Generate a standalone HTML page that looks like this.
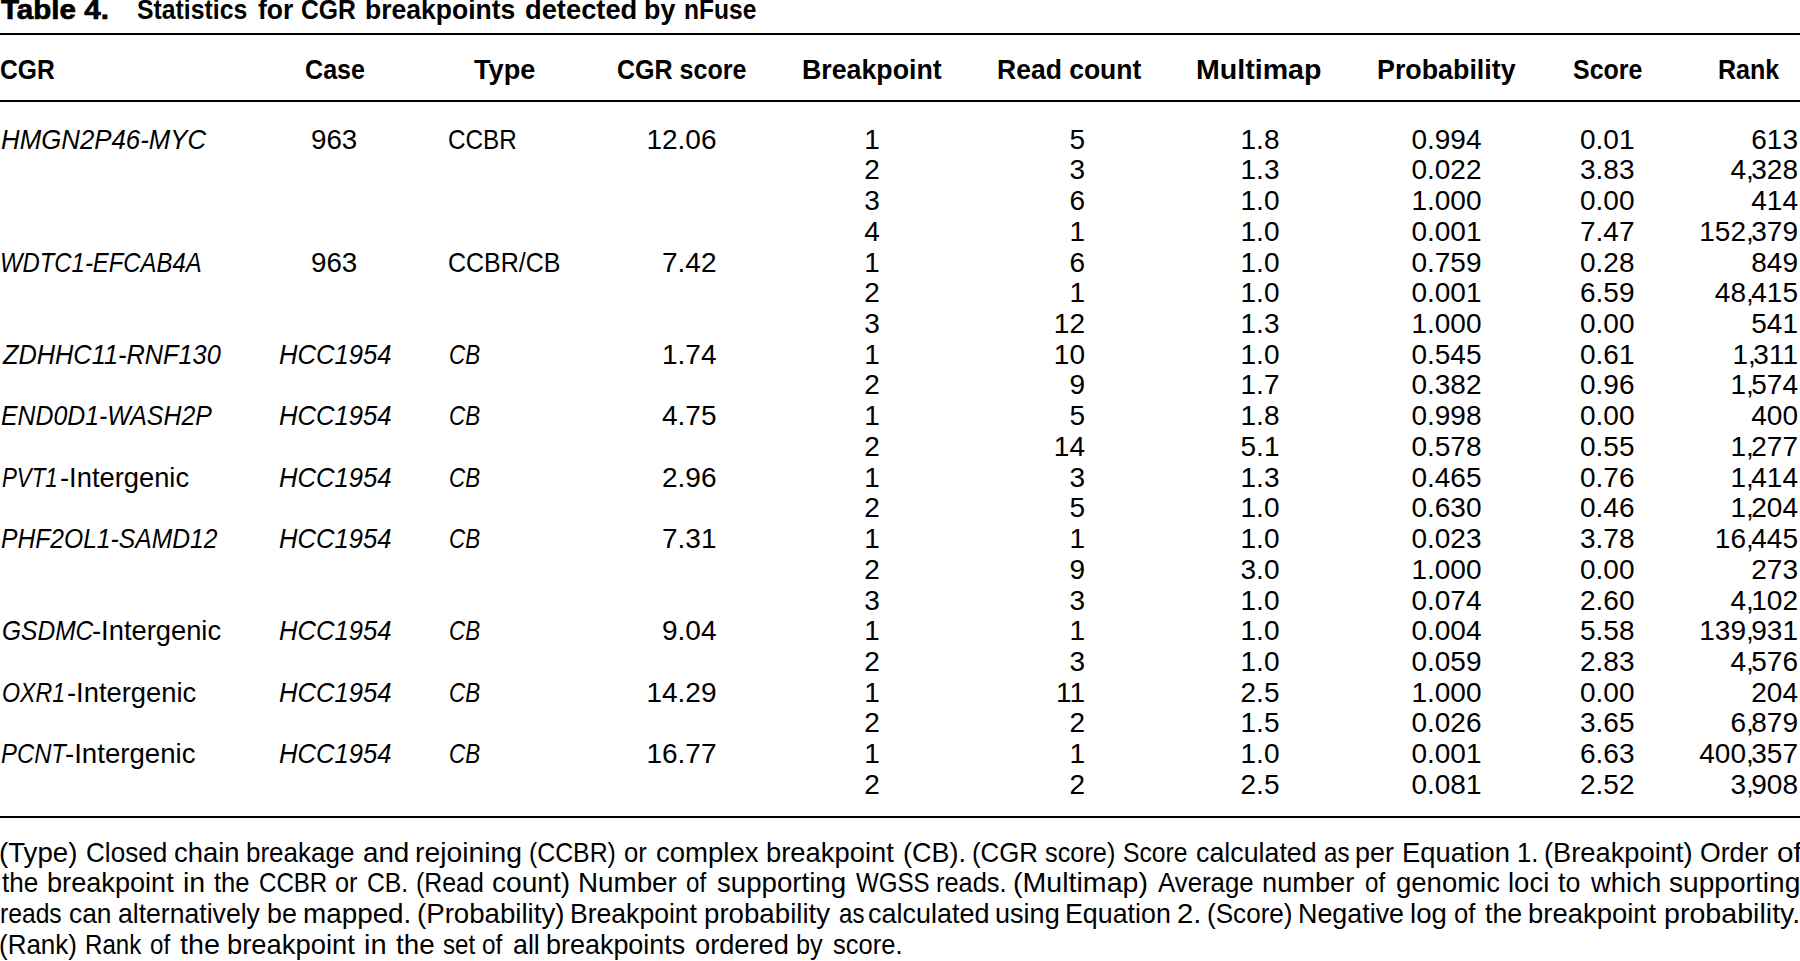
<!DOCTYPE html><html><head><meta charset="utf-8"><style>
html,body{margin:0;padding:0;background:#fff;}
body{width:1800px;height:961px;overflow:hidden;position:relative;font-family:'Liberation Sans', sans-serif;color:#000;line-height:40px;white-space:pre;}
body div{white-space:pre;}
.r{position:absolute;left:0;width:1800px;background:#000;}
</style></head><body>
<div style="position:absolute;left:0.60px;top:-10px;font-size:28px;font-weight:bold;font-style:normal;transform:scaleX(1.05545);transform-origin:0 0;-webkit-text-stroke:0.7px #000;">Table 4.</div>
<div style="position:absolute;left:137.41px;top:-10px;font-size:28px;font-weight:bold;font-style:normal;transform:scaleX(0.88537);transform-origin:0 0;">Statistics</div>
<div style="position:absolute;left:257.80px;top:-10px;font-size:28px;font-weight:bold;font-style:normal;transform:scaleX(0.94595);transform-origin:0 0;">for</div>
<div style="position:absolute;left:301.32px;top:-10px;font-size:28px;font-weight:bold;font-style:normal;transform:scaleX(0.88361);transform-origin:0 0;">CGR</div>
<div style="position:absolute;left:364.81px;top:-10px;font-size:28px;font-weight:bold;font-style:normal;transform:scaleX(0.94679);transform-origin:0 0;">breakpoints</div>
<div style="position:absolute;left:524.62px;top:-10px;font-size:28px;font-weight:bold;font-style:normal;transform:scaleX(0.97500);transform-origin:0 0;">detected</div>
<div style="position:absolute;left:643.68px;top:-10px;font-size:28px;font-weight:bold;font-style:normal;transform:scaleX(0.96000);transform-origin:0 0;">by</div>
<div style="position:absolute;left:683.54px;top:-10px;font-size:28px;font-weight:bold;font-style:normal;transform:scaleX(0.87750);transform-origin:0 0;">nFuse</div>
<div style="position:absolute;left:0.22px;top:50px;font-size:28px;font-weight:bold;font-style:normal;transform:scaleX(0.87869);transform-origin:0 0;">CGR</div>
<div style="position:absolute;left:304.70px;top:50px;font-size:28px;font-weight:bold;font-style:normal;transform:scaleX(0.89692);transform-origin:0 0;">Case</div>
<div style="position:absolute;left:473.60px;top:50px;font-size:28px;font-weight:bold;font-style:normal;transform:scaleX(0.96984);transform-origin:0 0;">Type</div>
<div style="position:absolute;left:617.11px;top:50px;font-size:28px;font-weight:bold;font-style:normal;transform:scaleX(0.89371);transform-origin:0 0;">CGR score</div>
<div style="position:absolute;left:801.59px;top:50px;font-size:28px;font-weight:bold;font-style:normal;transform:scaleX(0.95486);transform-origin:0 0;">Breakpoint</div>
<div style="position:absolute;left:997.11px;top:50px;font-size:28px;font-weight:bold;font-style:normal;transform:scaleX(0.94667);transform-origin:0 0;">Read count</div>
<div style="position:absolute;left:1196.46px;top:50px;font-size:28px;font-weight:bold;font-style:normal;transform:scaleX(1.02083);transform-origin:0 0;">Multimap</div>
<div style="position:absolute;left:1377.08px;top:50px;font-size:28px;font-weight:bold;font-style:normal;transform:scaleX(0.95775);transform-origin:0 0;">Probability</div>
<div style="position:absolute;left:1573.11px;top:50px;font-size:28px;font-weight:bold;font-style:normal;transform:scaleX(0.89079);transform-origin:0 0;">Score</div>
<div style="position:absolute;left:1717.81px;top:50px;font-size:28px;font-weight:bold;font-style:normal;transform:scaleX(0.89552);transform-origin:0 0;">Rank</div>
<div style="position:absolute;left:1.28px;top:120px;font-size:28px;font-weight:normal;font-style:normal;transform:scaleX(0.92207);transform-origin:0 0;"><i>HMGN2P46-MYC</i></div>
<div style="position:absolute;left:311.46px;top:120px;font-size:28px;font-weight:normal;font-style:normal;transform:scaleX(0.98889);transform-origin:0 0;">963</div>
<div style="position:absolute;left:447.73px;top:120px;font-size:28px;font-weight:normal;font-style:normal;transform:scaleX(0.86623);transform-origin:0 0;">CCBR</div>
<div style="position:absolute;left:646.42px;top:120px;font-size:28px;font-weight:normal;font-style:normal;">12.06</div>
<div style="position:absolute;left:864.21px;top:120px;font-size:28px;font-weight:normal;font-style:normal;">1</div>
<div style="position:absolute;left:1069.42px;top:120px;font-size:28px;font-weight:normal;font-style:normal;">5</div>
<div style="position:absolute;left:1240.56px;top:120px;font-size:28px;font-weight:normal;font-style:normal;">1.8</div>
<div style="position:absolute;left:1411.42px;top:120px;font-size:28px;font-weight:normal;font-style:normal;">0.994</div>
<div style="position:absolute;left:1580.00px;top:120px;font-size:28px;font-weight:normal;font-style:normal;">0.01</div>
<div style="position:absolute;left:1751.28px;top:120px;font-size:28px;font-weight:normal;font-style:normal;">613</div>
<div style="position:absolute;left:864.21px;top:150px;font-size:28px;font-weight:normal;font-style:normal;">2</div>
<div style="position:absolute;left:1069.42px;top:150px;font-size:28px;font-weight:normal;font-style:normal;">3</div>
<div style="position:absolute;left:1240.56px;top:150px;font-size:28px;font-weight:normal;font-style:normal;">1.3</div>
<div style="position:absolute;left:1411.42px;top:150px;font-size:28px;font-weight:normal;font-style:normal;">0.022</div>
<div style="position:absolute;left:1580.00px;top:150px;font-size:28px;font-weight:normal;font-style:normal;">3.83</div>
<div style="position:absolute;left:1730.42px;top:150px;font-size:28px;font-weight:normal;font-style:normal;">4<span style="letter-spacing:-2.5px">,</span>328</div>
<div style="position:absolute;left:864.21px;top:181px;font-size:28px;font-weight:normal;font-style:normal;">3</div>
<div style="position:absolute;left:1069.42px;top:181px;font-size:28px;font-weight:normal;font-style:normal;">6</div>
<div style="position:absolute;left:1240.56px;top:181px;font-size:28px;font-weight:normal;font-style:normal;">1.0</div>
<div style="position:absolute;left:1411.42px;top:181px;font-size:28px;font-weight:normal;font-style:normal;">1.000</div>
<div style="position:absolute;left:1580.00px;top:181px;font-size:28px;font-weight:normal;font-style:normal;">0.00</div>
<div style="position:absolute;left:1751.28px;top:181px;font-size:28px;font-weight:normal;font-style:normal;">414</div>
<div style="position:absolute;left:864.21px;top:212px;font-size:28px;font-weight:normal;font-style:normal;">4</div>
<div style="position:absolute;left:1069.42px;top:212px;font-size:28px;font-weight:normal;font-style:normal;">1</div>
<div style="position:absolute;left:1240.56px;top:212px;font-size:28px;font-weight:normal;font-style:normal;">1.0</div>
<div style="position:absolute;left:1411.42px;top:212px;font-size:28px;font-weight:normal;font-style:normal;">0.001</div>
<div style="position:absolute;left:1580.00px;top:212px;font-size:28px;font-weight:normal;font-style:normal;">7.47</div>
<div style="position:absolute;left:1699.28px;top:212px;font-size:28px;font-weight:normal;font-style:normal;">152<span style="letter-spacing:-2.5px">,</span>379</div>
<div style="position:absolute;left:0.49px;top:243px;font-size:28px;font-weight:normal;font-style:normal;transform:scaleX(0.85279);transform-origin:0 0;"><i>WDTC1-EFCAB4A</i></div>
<div style="position:absolute;left:311.46px;top:243px;font-size:28px;font-weight:normal;font-style:normal;transform:scaleX(0.98889);transform-origin:0 0;">963</div>
<div style="position:absolute;left:447.91px;top:243px;font-size:28px;font-weight:normal;font-style:normal;transform:scaleX(0.89274);transform-origin:0 0;">CCBR/CB</div>
<div style="position:absolute;left:662.00px;top:243px;font-size:28px;font-weight:normal;font-style:normal;">7.42</div>
<div style="position:absolute;left:864.21px;top:243px;font-size:28px;font-weight:normal;font-style:normal;">1</div>
<div style="position:absolute;left:1069.42px;top:243px;font-size:28px;font-weight:normal;font-style:normal;">6</div>
<div style="position:absolute;left:1240.56px;top:243px;font-size:28px;font-weight:normal;font-style:normal;">1.0</div>
<div style="position:absolute;left:1411.42px;top:243px;font-size:28px;font-weight:normal;font-style:normal;">0.759</div>
<div style="position:absolute;left:1580.00px;top:243px;font-size:28px;font-weight:normal;font-style:normal;">0.28</div>
<div style="position:absolute;left:1751.28px;top:243px;font-size:28px;font-weight:normal;font-style:normal;">849</div>
<div style="position:absolute;left:864.21px;top:273px;font-size:28px;font-weight:normal;font-style:normal;">2</div>
<div style="position:absolute;left:1069.42px;top:273px;font-size:28px;font-weight:normal;font-style:normal;">1</div>
<div style="position:absolute;left:1240.56px;top:273px;font-size:28px;font-weight:normal;font-style:normal;">1.0</div>
<div style="position:absolute;left:1411.42px;top:273px;font-size:28px;font-weight:normal;font-style:normal;">0.001</div>
<div style="position:absolute;left:1580.00px;top:273px;font-size:28px;font-weight:normal;font-style:normal;">6.59</div>
<div style="position:absolute;left:1714.84px;top:273px;font-size:28px;font-weight:normal;font-style:normal;">48<span style="letter-spacing:-2.5px">,</span>415</div>
<div style="position:absolute;left:864.21px;top:304px;font-size:28px;font-weight:normal;font-style:normal;">3</div>
<div style="position:absolute;left:1053.84px;top:304px;font-size:28px;font-weight:normal;font-style:normal;">12</div>
<div style="position:absolute;left:1240.56px;top:304px;font-size:28px;font-weight:normal;font-style:normal;">1.3</div>
<div style="position:absolute;left:1411.42px;top:304px;font-size:28px;font-weight:normal;font-style:normal;">1.000</div>
<div style="position:absolute;left:1580.00px;top:304px;font-size:28px;font-weight:normal;font-style:normal;">0.00</div>
<div style="position:absolute;left:1751.28px;top:304px;font-size:28px;font-weight:normal;font-style:normal;">541</div>
<div style="position:absolute;left:3.10px;top:335px;font-size:28px;font-weight:normal;font-style:normal;transform:scaleX(0.90496);transform-origin:0 0;"><i>ZDHHC11-RNF130</i></div>
<div style="position:absolute;left:278.94px;top:335px;font-size:28px;font-weight:normal;font-style:normal;transform:scaleX(0.91488);transform-origin:0 0;"><i>HCC1954</i></div>
<div style="position:absolute;left:449.00px;top:335px;font-size:28px;font-weight:normal;font-style:normal;transform:scaleX(0.80000);transform-origin:0 0;"><i>CB</i></div>
<div style="position:absolute;left:662.00px;top:335px;font-size:28px;font-weight:normal;font-style:normal;">1.74</div>
<div style="position:absolute;left:864.21px;top:335px;font-size:28px;font-weight:normal;font-style:normal;">1</div>
<div style="position:absolute;left:1053.84px;top:335px;font-size:28px;font-weight:normal;font-style:normal;">10</div>
<div style="position:absolute;left:1240.56px;top:335px;font-size:28px;font-weight:normal;font-style:normal;">1.0</div>
<div style="position:absolute;left:1411.42px;top:335px;font-size:28px;font-weight:normal;font-style:normal;">0.545</div>
<div style="position:absolute;left:1580.00px;top:335px;font-size:28px;font-weight:normal;font-style:normal;">0.61</div>
<div style="position:absolute;left:1732.50px;top:335px;font-size:28px;font-weight:normal;font-style:normal;">1<span style="letter-spacing:-2.5px">,</span>311</div>
<div style="position:absolute;left:864.21px;top:365px;font-size:28px;font-weight:normal;font-style:normal;">2</div>
<div style="position:absolute;left:1069.42px;top:365px;font-size:28px;font-weight:normal;font-style:normal;">9</div>
<div style="position:absolute;left:1240.56px;top:365px;font-size:28px;font-weight:normal;font-style:normal;">1.7</div>
<div style="position:absolute;left:1411.42px;top:365px;font-size:28px;font-weight:normal;font-style:normal;">0.382</div>
<div style="position:absolute;left:1580.00px;top:365px;font-size:28px;font-weight:normal;font-style:normal;">0.96</div>
<div style="position:absolute;left:1730.42px;top:365px;font-size:28px;font-weight:normal;font-style:normal;">1<span style="letter-spacing:-2.5px">,</span>574</div>
<div style="position:absolute;left:1.31px;top:396px;font-size:28px;font-weight:normal;font-style:normal;transform:scaleX(0.88729);transform-origin:0 0;"><i>END0D1-WASH2P</i></div>
<div style="position:absolute;left:278.94px;top:396px;font-size:28px;font-weight:normal;font-style:normal;transform:scaleX(0.91488);transform-origin:0 0;"><i>HCC1954</i></div>
<div style="position:absolute;left:449.00px;top:396px;font-size:28px;font-weight:normal;font-style:normal;transform:scaleX(0.80000);transform-origin:0 0;"><i>CB</i></div>
<div style="position:absolute;left:662.00px;top:396px;font-size:28px;font-weight:normal;font-style:normal;">4.75</div>
<div style="position:absolute;left:864.21px;top:396px;font-size:28px;font-weight:normal;font-style:normal;">1</div>
<div style="position:absolute;left:1069.42px;top:396px;font-size:28px;font-weight:normal;font-style:normal;">5</div>
<div style="position:absolute;left:1240.56px;top:396px;font-size:28px;font-weight:normal;font-style:normal;">1.8</div>
<div style="position:absolute;left:1411.42px;top:396px;font-size:28px;font-weight:normal;font-style:normal;">0.998</div>
<div style="position:absolute;left:1580.00px;top:396px;font-size:28px;font-weight:normal;font-style:normal;">0.00</div>
<div style="position:absolute;left:1751.28px;top:396px;font-size:28px;font-weight:normal;font-style:normal;">400</div>
<div style="position:absolute;left:864.21px;top:427px;font-size:28px;font-weight:normal;font-style:normal;">2</div>
<div style="position:absolute;left:1053.84px;top:427px;font-size:28px;font-weight:normal;font-style:normal;">14</div>
<div style="position:absolute;left:1240.56px;top:427px;font-size:28px;font-weight:normal;font-style:normal;">5.1</div>
<div style="position:absolute;left:1411.42px;top:427px;font-size:28px;font-weight:normal;font-style:normal;">0.578</div>
<div style="position:absolute;left:1580.00px;top:427px;font-size:28px;font-weight:normal;font-style:normal;">0.55</div>
<div style="position:absolute;left:1730.42px;top:427px;font-size:28px;font-weight:normal;font-style:normal;">1<span style="letter-spacing:-2.5px">,</span>277</div>
<div style="position:absolute;left:1.90px;top:458px;font-size:28px;font-weight:normal;font-style:normal;transform:scaleX(0.79552);transform-origin:0 0;"><i>PVT1</i></div>
<div style="position:absolute;left:60.02px;top:458px;font-size:28px;font-weight:normal;font-style:normal;transform:scaleX(0.97557);transform-origin:0 0;">-Intergenic</div>
<div style="position:absolute;left:278.94px;top:458px;font-size:28px;font-weight:normal;font-style:normal;transform:scaleX(0.91488);transform-origin:0 0;"><i>HCC1954</i></div>
<div style="position:absolute;left:449.00px;top:458px;font-size:28px;font-weight:normal;font-style:normal;transform:scaleX(0.80000);transform-origin:0 0;"><i>CB</i></div>
<div style="position:absolute;left:662.00px;top:458px;font-size:28px;font-weight:normal;font-style:normal;">2.96</div>
<div style="position:absolute;left:864.21px;top:458px;font-size:28px;font-weight:normal;font-style:normal;">1</div>
<div style="position:absolute;left:1069.42px;top:458px;font-size:28px;font-weight:normal;font-style:normal;">3</div>
<div style="position:absolute;left:1240.56px;top:458px;font-size:28px;font-weight:normal;font-style:normal;">1.3</div>
<div style="position:absolute;left:1411.42px;top:458px;font-size:28px;font-weight:normal;font-style:normal;">0.465</div>
<div style="position:absolute;left:1580.00px;top:458px;font-size:28px;font-weight:normal;font-style:normal;">0.76</div>
<div style="position:absolute;left:1730.42px;top:458px;font-size:28px;font-weight:normal;font-style:normal;">1<span style="letter-spacing:-2.5px">,</span>414</div>
<div style="position:absolute;left:864.21px;top:488px;font-size:28px;font-weight:normal;font-style:normal;">2</div>
<div style="position:absolute;left:1069.42px;top:488px;font-size:28px;font-weight:normal;font-style:normal;">5</div>
<div style="position:absolute;left:1240.56px;top:488px;font-size:28px;font-weight:normal;font-style:normal;">1.0</div>
<div style="position:absolute;left:1411.42px;top:488px;font-size:28px;font-weight:normal;font-style:normal;">0.630</div>
<div style="position:absolute;left:1580.00px;top:488px;font-size:28px;font-weight:normal;font-style:normal;">0.46</div>
<div style="position:absolute;left:1730.42px;top:488px;font-size:28px;font-weight:normal;font-style:normal;">1<span style="letter-spacing:-2.5px">,</span>204</div>
<div style="position:absolute;left:1.32px;top:519px;font-size:28px;font-weight:normal;font-style:normal;transform:scaleX(0.88000);transform-origin:0 0;"><i>PHF2OL1-SAMD12</i></div>
<div style="position:absolute;left:278.94px;top:519px;font-size:28px;font-weight:normal;font-style:normal;transform:scaleX(0.91488);transform-origin:0 0;"><i>HCC1954</i></div>
<div style="position:absolute;left:449.00px;top:519px;font-size:28px;font-weight:normal;font-style:normal;transform:scaleX(0.80000);transform-origin:0 0;"><i>CB</i></div>
<div style="position:absolute;left:662.00px;top:519px;font-size:28px;font-weight:normal;font-style:normal;">7.31</div>
<div style="position:absolute;left:864.21px;top:519px;font-size:28px;font-weight:normal;font-style:normal;">1</div>
<div style="position:absolute;left:1069.42px;top:519px;font-size:28px;font-weight:normal;font-style:normal;">1</div>
<div style="position:absolute;left:1240.56px;top:519px;font-size:28px;font-weight:normal;font-style:normal;">1.0</div>
<div style="position:absolute;left:1411.42px;top:519px;font-size:28px;font-weight:normal;font-style:normal;">0.023</div>
<div style="position:absolute;left:1580.00px;top:519px;font-size:28px;font-weight:normal;font-style:normal;">3.78</div>
<div style="position:absolute;left:1714.84px;top:519px;font-size:28px;font-weight:normal;font-style:normal;">16<span style="letter-spacing:-2.5px">,</span>445</div>
<div style="position:absolute;left:864.21px;top:550px;font-size:28px;font-weight:normal;font-style:normal;">2</div>
<div style="position:absolute;left:1069.42px;top:550px;font-size:28px;font-weight:normal;font-style:normal;">9</div>
<div style="position:absolute;left:1240.56px;top:550px;font-size:28px;font-weight:normal;font-style:normal;">3.0</div>
<div style="position:absolute;left:1411.42px;top:550px;font-size:28px;font-weight:normal;font-style:normal;">1.000</div>
<div style="position:absolute;left:1580.00px;top:550px;font-size:28px;font-weight:normal;font-style:normal;">0.00</div>
<div style="position:absolute;left:1751.28px;top:550px;font-size:28px;font-weight:normal;font-style:normal;">273</div>
<div style="position:absolute;left:864.21px;top:581px;font-size:28px;font-weight:normal;font-style:normal;">3</div>
<div style="position:absolute;left:1069.42px;top:581px;font-size:28px;font-weight:normal;font-style:normal;">3</div>
<div style="position:absolute;left:1240.56px;top:581px;font-size:28px;font-weight:normal;font-style:normal;">1.0</div>
<div style="position:absolute;left:1411.42px;top:581px;font-size:28px;font-weight:normal;font-style:normal;">0.074</div>
<div style="position:absolute;left:1580.00px;top:581px;font-size:28px;font-weight:normal;font-style:normal;">2.60</div>
<div style="position:absolute;left:1730.42px;top:581px;font-size:28px;font-weight:normal;font-style:normal;">4<span style="letter-spacing:-2.5px">,</span>102</div>
<div style="position:absolute;left:2.02px;top:611px;font-size:28px;font-weight:normal;font-style:normal;transform:scaleX(0.87573);transform-origin:0 0;"><i>GSDMC</i></div>
<div style="position:absolute;left:92.12px;top:611px;font-size:28px;font-weight:normal;font-style:normal;transform:scaleX(0.97557);transform-origin:0 0;">-Intergenic</div>
<div style="position:absolute;left:278.94px;top:611px;font-size:28px;font-weight:normal;font-style:normal;transform:scaleX(0.91488);transform-origin:0 0;"><i>HCC1954</i></div>
<div style="position:absolute;left:449.00px;top:611px;font-size:28px;font-weight:normal;font-style:normal;transform:scaleX(0.80000);transform-origin:0 0;"><i>CB</i></div>
<div style="position:absolute;left:662.00px;top:611px;font-size:28px;font-weight:normal;font-style:normal;">9.04</div>
<div style="position:absolute;left:864.21px;top:611px;font-size:28px;font-weight:normal;font-style:normal;">1</div>
<div style="position:absolute;left:1069.42px;top:611px;font-size:28px;font-weight:normal;font-style:normal;">1</div>
<div style="position:absolute;left:1240.56px;top:611px;font-size:28px;font-weight:normal;font-style:normal;">1.0</div>
<div style="position:absolute;left:1411.42px;top:611px;font-size:28px;font-weight:normal;font-style:normal;">0.004</div>
<div style="position:absolute;left:1580.00px;top:611px;font-size:28px;font-weight:normal;font-style:normal;">5.58</div>
<div style="position:absolute;left:1699.28px;top:611px;font-size:28px;font-weight:normal;font-style:normal;">139<span style="letter-spacing:-2.5px">,</span>931</div>
<div style="position:absolute;left:864.21px;top:642px;font-size:28px;font-weight:normal;font-style:normal;">2</div>
<div style="position:absolute;left:1069.42px;top:642px;font-size:28px;font-weight:normal;font-style:normal;">3</div>
<div style="position:absolute;left:1240.56px;top:642px;font-size:28px;font-weight:normal;font-style:normal;">1.0</div>
<div style="position:absolute;left:1411.42px;top:642px;font-size:28px;font-weight:normal;font-style:normal;">0.059</div>
<div style="position:absolute;left:1580.00px;top:642px;font-size:28px;font-weight:normal;font-style:normal;">2.83</div>
<div style="position:absolute;left:1730.42px;top:642px;font-size:28px;font-weight:normal;font-style:normal;">4<span style="letter-spacing:-2.5px">,</span>576</div>
<div style="position:absolute;left:1.97px;top:673px;font-size:28px;font-weight:normal;font-style:normal;transform:scaleX(0.82740);transform-origin:0 0;"><i>OXR1</i></div>
<div style="position:absolute;left:66.92px;top:673px;font-size:28px;font-weight:normal;font-style:normal;transform:scaleX(0.97710);transform-origin:0 0;">-Intergenic</div>
<div style="position:absolute;left:278.94px;top:673px;font-size:28px;font-weight:normal;font-style:normal;transform:scaleX(0.91488);transform-origin:0 0;"><i>HCC1954</i></div>
<div style="position:absolute;left:449.00px;top:673px;font-size:28px;font-weight:normal;font-style:normal;transform:scaleX(0.80000);transform-origin:0 0;"><i>CB</i></div>
<div style="position:absolute;left:646.42px;top:673px;font-size:28px;font-weight:normal;font-style:normal;">14.29</div>
<div style="position:absolute;left:864.21px;top:673px;font-size:28px;font-weight:normal;font-style:normal;">1</div>
<div style="position:absolute;left:1055.92px;top:673px;font-size:28px;font-weight:normal;font-style:normal;">11</div>
<div style="position:absolute;left:1240.56px;top:673px;font-size:28px;font-weight:normal;font-style:normal;">2.5</div>
<div style="position:absolute;left:1411.42px;top:673px;font-size:28px;font-weight:normal;font-style:normal;">1.000</div>
<div style="position:absolute;left:1580.00px;top:673px;font-size:28px;font-weight:normal;font-style:normal;">0.00</div>
<div style="position:absolute;left:1751.28px;top:673px;font-size:28px;font-weight:normal;font-style:normal;">204</div>
<div style="position:absolute;left:864.21px;top:703px;font-size:28px;font-weight:normal;font-style:normal;">2</div>
<div style="position:absolute;left:1069.42px;top:703px;font-size:28px;font-weight:normal;font-style:normal;">2</div>
<div style="position:absolute;left:1240.56px;top:703px;font-size:28px;font-weight:normal;font-style:normal;">1.5</div>
<div style="position:absolute;left:1411.42px;top:703px;font-size:28px;font-weight:normal;font-style:normal;">0.026</div>
<div style="position:absolute;left:1580.00px;top:703px;font-size:28px;font-weight:normal;font-style:normal;">3.65</div>
<div style="position:absolute;left:1730.42px;top:703px;font-size:28px;font-weight:normal;font-style:normal;">6<span style="letter-spacing:-2.5px">,</span>879</div>
<div style="position:absolute;left:1.45px;top:734px;font-size:28px;font-weight:normal;font-style:normal;transform:scaleX(0.85195);transform-origin:0 0;"><i>PCNT</i></div>
<div style="position:absolute;left:65.01px;top:734px;font-size:28px;font-weight:normal;font-style:normal;transform:scaleX(0.98626);transform-origin:0 0;">-Intergenic</div>
<div style="position:absolute;left:278.94px;top:734px;font-size:28px;font-weight:normal;font-style:normal;transform:scaleX(0.91488);transform-origin:0 0;"><i>HCC1954</i></div>
<div style="position:absolute;left:449.00px;top:734px;font-size:28px;font-weight:normal;font-style:normal;transform:scaleX(0.80000);transform-origin:0 0;"><i>CB</i></div>
<div style="position:absolute;left:646.42px;top:734px;font-size:28px;font-weight:normal;font-style:normal;">16.77</div>
<div style="position:absolute;left:864.21px;top:734px;font-size:28px;font-weight:normal;font-style:normal;">1</div>
<div style="position:absolute;left:1069.42px;top:734px;font-size:28px;font-weight:normal;font-style:normal;">1</div>
<div style="position:absolute;left:1240.56px;top:734px;font-size:28px;font-weight:normal;font-style:normal;">1.0</div>
<div style="position:absolute;left:1411.42px;top:734px;font-size:28px;font-weight:normal;font-style:normal;">0.001</div>
<div style="position:absolute;left:1580.00px;top:734px;font-size:28px;font-weight:normal;font-style:normal;">6.63</div>
<div style="position:absolute;left:1699.28px;top:734px;font-size:28px;font-weight:normal;font-style:normal;">400<span style="letter-spacing:-2.5px">,</span>357</div>
<div style="position:absolute;left:864.21px;top:765px;font-size:28px;font-weight:normal;font-style:normal;">2</div>
<div style="position:absolute;left:1069.42px;top:765px;font-size:28px;font-weight:normal;font-style:normal;">2</div>
<div style="position:absolute;left:1240.56px;top:765px;font-size:28px;font-weight:normal;font-style:normal;">2.5</div>
<div style="position:absolute;left:1411.42px;top:765px;font-size:28px;font-weight:normal;font-style:normal;">0.081</div>
<div style="position:absolute;left:1580.00px;top:765px;font-size:28px;font-weight:normal;font-style:normal;">2.52</div>
<div style="position:absolute;left:1730.42px;top:765px;font-size:28px;font-weight:normal;font-style:normal;">3<span style="letter-spacing:-2.5px">,</span>908</div>
<div style="position:absolute;left:-0.68px;top:833px;font-size:28px;transform:scaleX(0.9883);transform-origin:0 0">(Type)</div>
<div style="position:absolute;left:85.57px;top:833px;font-size:28px;transform:scaleX(0.9323);transform-origin:0 0">Closed</div>
<div style="position:absolute;left:173.92px;top:833px;font-size:28px;transform:scaleX(0.9799);transform-origin:0 0">chain</div>
<div style="position:absolute;left:245.84px;top:833px;font-size:28px;transform:scaleX(0.9282);transform-origin:0 0">breakage</div>
<div style="position:absolute;left:362.61px;top:833px;font-size:28px;transform:scaleX(0.9912);transform-origin:0 0">and</div>
<div style="position:absolute;left:415.28px;top:833px;font-size:28px;transform:scaleX(1.0119);transform-origin:0 0">rejoining</div>
<div style="position:absolute;left:528.83px;top:833px;font-size:28px;transform:scaleX(0.8864);transform-origin:0 0">(CCBR)</div>
<div style="position:absolute;left:623.98px;top:833px;font-size:28px;transform:scaleX(0.9171);transform-origin:0 0">or</div>
<div style="position:absolute;left:656.02px;top:833px;font-size:28px;transform:scaleX(0.9836);transform-origin:0 0">complex</div>
<div style="position:absolute;left:766.44px;top:833px;font-size:28px;transform:scaleX(0.9776);transform-origin:0 0">breakpoint</div>
<div style="position:absolute;left:902.68px;top:833px;font-size:28px;transform:scaleX(0.9625);transform-origin:0 0">(CB).</div>
<div style="position:absolute;left:971.56px;top:833px;font-size:28px;transform:scaleX(0.9222);transform-origin:0 0">(CGR</div>
<div style="position:absolute;left:1045.30px;top:833px;font-size:28px;transform:scaleX(0.9041);transform-origin:0 0">score)</div>
<div style="position:absolute;left:1123.22px;top:833px;font-size:28px;transform:scaleX(0.8818);transform-origin:0 0">Score</div>
<div style="position:absolute;left:1195.84px;top:833px;font-size:28px;transform:scaleX(0.9570);transform-origin:0 0">calculated</div>
<div style="position:absolute;left:1323.74px;top:833px;font-size:28px;transform:scaleX(0.8600);transform-origin:0 0">as</div>
<div style="position:absolute;left:1355.28px;top:833px;font-size:28px;transform:scaleX(0.9608);transform-origin:0 0">per</div>
<div style="position:absolute;left:1401.85px;top:833px;font-size:28px;transform:scaleX(0.9767);transform-origin:0 0">Equation</div>
<div style="position:absolute;left:1516.57px;top:833px;font-size:28px;transform:scaleX(0.9164);transform-origin:0 0">1.</div>
<div style="position:absolute;left:1543.95px;top:833px;font-size:28px;transform:scaleX(0.9739);transform-origin:0 0">(Breakpoint)</div>
<div style="position:absolute;left:1700.15px;top:833px;font-size:28px;transform:scaleX(0.9516);transform-origin:0 0">Order</div>
<div style="position:absolute;left:1776.74px;top:833px;font-size:28px;transform:scaleX(1.0600);transform-origin:0 0">of</div>
<div style="position:absolute;left:2.00px;top:863px;font-size:28px;transform:scaleX(0.9304);transform-origin:0 0">the</div>
<div style="position:absolute;left:46.56px;top:863px;font-size:28px;transform:scaleX(0.9694);transform-origin:0 0">breakpoint</div>
<div style="position:absolute;left:182.66px;top:863px;font-size:28px;transform:scaleX(1.0197);transform-origin:0 0">in</div>
<div style="position:absolute;left:214.20px;top:863px;font-size:28px;transform:scaleX(0.9146);transform-origin:0 0">the</div>
<div style="position:absolute;left:259.24px;top:863px;font-size:28px;transform:scaleX(0.8600);transform-origin:0 0">CCBR</div>
<div style="position:absolute;left:334.50px;top:863px;font-size:28px;transform:scaleX(0.9022);transform-origin:0 0">or</div>
<div style="position:absolute;left:367.32px;top:863px;font-size:28px;transform:scaleX(0.8827);transform-origin:0 0">CB.</div>
<div style="position:absolute;left:415.52px;top:863px;font-size:28px;transform:scaleX(0.8884);transform-origin:0 0">(Read</div>
<div style="position:absolute;left:492.30px;top:863px;font-size:28px;transform:scaleX(1.0047);transform-origin:0 0">count)</div>
<div style="position:absolute;left:577.82px;top:863px;font-size:28px;transform:scaleX(0.9923);transform-origin:0 0">Number</div>
<div style="position:absolute;left:686.34px;top:863px;font-size:28px;transform:scaleX(0.8600);transform-origin:0 0">of</div>
<div style="position:absolute;left:717.01px;top:863px;font-size:28px;transform:scaleX(0.9871);transform-origin:0 0">supporting</div>
<div style="position:absolute;left:855.50px;top:863px;font-size:28px;transform:scaleX(0.8600);transform-origin:0 0">WGSS</div>
<div style="position:absolute;left:936.18px;top:863px;font-size:28px;transform:scaleX(0.9076);transform-origin:0 0">reads.</div>
<div style="position:absolute;left:1013.36px;top:863px;font-size:28px;transform:scaleX(1.0206);transform-origin:0 0">(Multimap)</div>
<div style="position:absolute;left:1158.20px;top:863px;font-size:28px;transform:scaleX(0.9209);transform-origin:0 0">Average</div>
<div style="position:absolute;left:1262.26px;top:863px;font-size:28px;transform:scaleX(0.9715);transform-origin:0 0">number</div>
<div style="position:absolute;left:1364.84px;top:863px;font-size:28px;transform:scaleX(0.8600);transform-origin:0 0">of</div>
<div style="position:absolute;left:1395.52px;top:863px;font-size:28px;transform:scaleX(0.9822);transform-origin:0 0">genomic</div>
<div style="position:absolute;left:1507.83px;top:863px;font-size:28px;transform:scaleX(0.9830);transform-origin:0 0">loci</div>
<div style="position:absolute;left:1558.30px;top:863px;font-size:28px;transform:scaleX(0.9570);transform-origin:0 0">to</div>
<div style="position:absolute;left:1590.50px;top:863px;font-size:28px;transform:scaleX(0.9808);transform-origin:0 0">which</div>
<div style="position:absolute;left:1669.30px;top:863px;font-size:28px;transform:scaleX(1.0039);transform-origin:0 0">supporting</div>
<div style="position:absolute;left:0.24px;top:894px;font-size:28px;transform:scaleX(0.8805);transform-origin:0 0">reads</div>
<div style="position:absolute;left:69.16px;top:894px;font-size:28px;transform:scaleX(0.9404);transform-origin:0 0">can</div>
<div style="position:absolute;left:117.75px;top:894px;font-size:28px;transform:scaleX(0.9496);transform-origin:0 0">alternatively</div>
<div style="position:absolute;left:267.39px;top:894px;font-size:28px;transform:scaleX(0.9570);transform-origin:0 0">be</div>
<div style="position:absolute;left:303.21px;top:894px;font-size:28px;transform:scaleX(0.9942);transform-origin:0 0">mapped.</div>
<div style="position:absolute;left:416.73px;top:894px;font-size:28px;transform:scaleX(0.9870);transform-origin:0 0">(Probability)</div>
<div style="position:absolute;left:570.00px;top:894px;font-size:28px;transform:scaleX(0.9485);transform-origin:0 0">Breakpoint</div>
<div style="position:absolute;left:704.22px;top:894px;font-size:28px;transform:scaleX(0.9881);transform-origin:0 0">probability</div>
<div style="position:absolute;left:838.94px;top:894px;font-size:28px;transform:scaleX(0.8600);transform-origin:0 0">as</div>
<div style="position:absolute;left:868.34px;top:894px;font-size:28px;transform:scaleX(0.9642);transform-origin:0 0">calculated</div>
<div style="position:absolute;left:995.07px;top:894px;font-size:28px;transform:scaleX(0.9666);transform-origin:0 0">using</div>
<div style="position:absolute;left:1065.09px;top:894px;font-size:28px;transform:scaleX(0.9570);transform-origin:0 0">Equation</div>
<div style="position:absolute;left:1177.46px;top:894px;font-size:28px;transform:scaleX(1.0448);transform-origin:0 0">2.</div>
<div style="position:absolute;left:1206.64px;top:894px;font-size:28px;transform:scaleX(0.9318);transform-origin:0 0">(Score)</div>
<div style="position:absolute;left:1297.68px;top:894px;font-size:28px;transform:scaleX(0.9592);transform-origin:0 0">Negative</div>
<div style="position:absolute;left:1410.33px;top:894px;font-size:28px;transform:scaleX(0.9852);transform-origin:0 0">log</div>
<div style="position:absolute;left:1453.99px;top:894px;font-size:28px;transform:scaleX(0.9129);transform-origin:0 0">of</div>
<div style="position:absolute;left:1485.00px;top:894px;font-size:28px;transform:scaleX(0.9499);transform-origin:0 0">the</div>
<div style="position:absolute;left:1528.24px;top:894px;font-size:28px;transform:scaleX(0.9798);transform-origin:0 0">breakpoint</div>
<div style="position:absolute;left:1663.66px;top:894px;font-size:28px;transform:scaleX(1.0217);transform-origin:0 0">probability.</div>
<div style="position:absolute;left:-0.55px;top:925px;font-size:28px;transform:scaleX(0.9275);transform-origin:0 0">(Rank)</div>
<div style="position:absolute;left:85.48px;top:925px;font-size:28px;transform:scaleX(0.8600);transform-origin:0 0">Rank</div>
<div style="position:absolute;left:150.44px;top:925px;font-size:28px;transform:scaleX(0.8600);transform-origin:0 0">of</div>
<div style="position:absolute;left:179.50px;top:925px;font-size:28px;transform:scaleX(1.0270);transform-origin:0 0">the</div>
<div style="position:absolute;left:227.34px;top:925px;font-size:28px;transform:scaleX(0.9777);transform-origin:0 0">breakpoint</div>
<div style="position:absolute;left:364.12px;top:925px;font-size:28px;transform:scaleX(1.0403);transform-origin:0 0">in</div>
<div style="position:absolute;left:395.70px;top:925px;font-size:28px;transform:scaleX(0.9928);transform-origin:0 0">the</div>
<div style="position:absolute;left:443.34px;top:925px;font-size:28px;transform:scaleX(0.8600);transform-origin:0 0">set</div>
<div style="position:absolute;left:481.93px;top:925px;font-size:28px;transform:scaleX(0.8707);transform-origin:0 0">of</div>
<div style="position:absolute;left:512.64px;top:925px;font-size:28px;transform:scaleX(0.9570);transform-origin:0 0">all</div>
<div style="position:absolute;left:546.38px;top:925px;font-size:28px;transform:scaleX(0.9621);transform-origin:0 0">breakpoints</div>
<div style="position:absolute;left:694.73px;top:925px;font-size:28px;transform:scaleX(0.9726);transform-origin:0 0">ordered</div>
<div style="position:absolute;left:796.10px;top:925px;font-size:28px;transform:scaleX(0.9009);transform-origin:0 0">by</div>
<div style="position:absolute;left:832.99px;top:925px;font-size:28px;transform:scaleX(0.9110);transform-origin:0 0">score.</div>
<div class="r" style="top:33px;height:2px"></div>
<div class="r" style="top:100px;height:2px"></div>
<div class="r" style="top:816px;height:2px"></div>
</body></html>
